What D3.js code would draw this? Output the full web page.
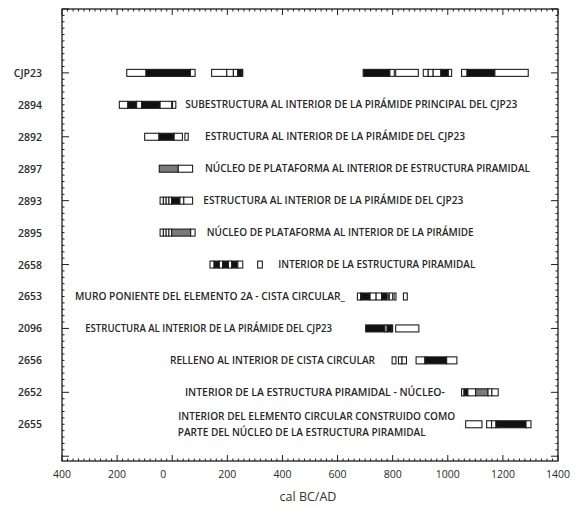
<!DOCTYPE html>
<html><head><meta charset="utf-8">
<script src="https://cdn.jsdelivr.net/npm/d3@7"></script>
<style>body{margin:0;background:#fff}svg{display:block}</style>
</head><body><svg id="c" width="578" height="515"></svg>
<script>
// ---- data ----
const rowLabels = ["CJP23","2894","2892","2897","2893","2895","2658","2653","2096","2656","2652","2655"];
const xTickValues = [-400,-200,0,200,400,600,800,1000,1200,1400];
const xTickLabels = ["400","200","0","200","400","600","800","1000","1200","1400"];
// segments per row: [start, end, fill]  w=white, b=black, g=grey (cal years, BC negative)
const segCJP23 = [[-165,-95,"w"],[-95,66,"b"],[66,83,"w"],[143,198,"w"],[198,222,"w"],[222,238,"w"],[238,253,"b"],[253,256,"w"],[693,790,"b"],[790,806,"w"],[811,893,"w"],[911,929,"w"],[929,947,"w"],[947,975,"w"],[975,1002,"b"],[1002,1014,"w"],[1050,1070,"w"],[1070,1171,"b"],[1171,1292,"w"]];
const seg2894 = [[-192,-161,"w"],[-161,-129,"b"],[-129,-111,"w"],[-111,-44,"b"],[-44,-2,"w"],[1,13,"w"]];
const seg2892 = [[-100,-48,"w"],[-48,7,"b"],[7,37,"w"],[46,58,"w"]];
const seg2897 = [[-47,22,"g"],[22,74,"w"]];
const seg2893 = [[-44,-32,"w"],[-32,-22,"w"],[-22,-12,"w"],[-12,-2,"w"],[-2,28,"b"],[28,42,"w"],[42,74,"w"]];
const seg2895 = [[-44,-32,"w"],[-32,-22,"w"],[-22,-12,"w"],[-12,-2,"w"],[-2,67,"g"],[67,83,"w"]];
const seg2658 = [[137,152,"w"],[152,171,"b"],[171,183,"w"],[183,204,"b"],[204,216,"w"],[216,238,"b"],[238,256,"w"],[310,327,"w"]];
const seg2653 = [[672,684,"w"],[684,718,"b"],[718,740,"w"],[740,760,"w"],[760,780,"b"],[780,784,"w"],[788,800,"w"],[805,812,"w"],[839,853,"w"]];
const seg2096 = [[702,772,"b"],[772,780,"w"],[780,796,"b"],[796,800,"w"],[811,895,"w"]];
const seg2656 = [[798,812,"w"],[821,834,"w"],[834,850,"w"],[885,917,"w"],[917,996,"b"],[996,1033,"w"]];
const seg2652 = [[1050,1059,"w"],[1059,1073,"b"],[1073,1101,"w"],[1101,1146,"g"],[1146,1160,"w"],[1160,1183,"w"]];
const seg2655 = [[1065,1124,"w"],[1141,1159,"w"],[1159,1175,"w"],[1175,1284,"b"],[1284,1302,"w"]];
const rowSegments = [segCJP23,seg2894,seg2892,seg2897,seg2893,seg2895,seg2658,seg2653,seg2096,seg2656,seg2652,seg2655];
// annotation texts: [row index, start year, text line, line offset]
const notes = [
 [1, 47, "SUBESTRUCTURA AL INTERIOR DE LA PIRÁMIDE PRINCIPAL DEL CJP23", 0],
 [2, 119, "ESTRUCTURA AL INTERIOR DE LA PIRÁMIDE DEL CJP23", 0],
 [3, 119, "NÚCLEO DE PLATAFORMA AL INTERIOR DE ESTRUCTURA PIRAMIDAL", 0],
 [4, 113, "ESTRUCTURA AL INTERIOR DE LA PIRÁMIDE DEL CJP23", 0],
 [5, 125, "NÚCLEO DE PLATAFORMA AL INTERIOR DE LA PIRÁMIDE", 0],
 [6, 385, "INTERIOR DE LA ESTRUCTURA PIRAMIDAL", 0],
 [7, -353, "MURO PONIENTE DEL ELEMENTO 2A - CISTA CIRCULAR_", 0],
 [8, -316, "ESTRUCTURA AL INTERIOR DE LA PIRÁMIDE DEL CJP23", 0],
 [9, -8, "RELLENO AL INTERIOR DE CISTA CIRCULAR", 0],
 [10, 46, "INTERIOR DE LA ESTRUCTURA PIRAMIDAL - NÚCLEO-", 0],
 [11, 22, "INTERIOR DEL ELEMENTO CIRCULAR CONSTRUIDO COMO", -1],
 [11, 20, "PARTE DEL NÚCLEO DE LA ESTRUCTURA PIRAMIDAL", 1]
];
// ---- layout ----
const noteWidths = [332,260,325,260,267,197,270,247,205,260,277,248];
const L = 62, R = 558, T = 9, B = 461;
const svg = d3.select("#c");
const x = d3.scaleLinear().domain([-400,1400]).range([L,R]);
const y = d3.scaleLinear().domain([-2,12.15]).range([T,B]);
const fills = {w:"#ffffff", b:"#111111", g:"#7a7a7a"};
const ink = "#1e1e1e";

// minor / major ticks, inward on all four sides
const xMinor = d3.range(-400,1401,20);
const yMinor = d3.range(-2,12.15,0.2);
const yMajor = d3.range(-2,12.1,2);
const tg = svg.append("g").attr("stroke",ink).attr("stroke-width",1);
xMinor.forEach(v=>{
  const major = xTickValues.includes(v);
  const len = major?6:2.5;
  tg.append("line").attr("x1",x(v)).attr("x2",x(v)).attr("y1",B).attr("y2",B-len);
  tg.append("line").attr("x1",x(v)).attr("x2",x(v)).attr("y1",T).attr("y2",T+len);
});
yMinor.forEach(v=>{
  const major = yMajor.some(m=>Math.abs(m-v)<1e-6);
  const len = major?7:2.5;
  tg.append("line").attr("y1",y(v)).attr("y2",y(v)).attr("x1",L).attr("x2",L+len);
  tg.append("line").attr("y1",y(v)).attr("y2",y(v)).attr("x1",R).attr("x2",R-len);
});
svg.append("rect").attr("x",L).attr("y",T).attr("width",R-L).attr("height",B-T)
  .attr("fill","none").attr("stroke",ink).attr("stroke-width",1.3);

// x tick labels (the "0" label sits a little left of its tick, as in the source)
svg.append("g").selectAll("text").data(xTickValues).join("text")
  .attr("x",d=>x(d) - (d===0?9:0)).attr("y",B+17).attr("text-anchor","middle")
  .attr("font-family","Open Sans").attr("font-size",10.5).attr("fill","#2a2a2a")
  .text((d,i)=>xTickLabels[i]);
svg.append("text").attr("x",(L+R)/2 - 2).attr("y",B+40).attr("text-anchor","middle")
  .attr("font-family","Open Sans").attr("font-size",12.5).attr("fill","#333").text("cal BC/AD");

// row labels
svg.append("g").selectAll("text").data(rowLabels).join("text")
  .attr("x",42).attr("y",(d,i)=>y(i)+4).attr("text-anchor","end")
  .attr("font-family","Open Sans").attr("font-weight",600).attr("font-size",10.5).attr("fill","#2a2a2a")
  .text(d=>d);

// bars
const bh = 7;
rowSegments.forEach((segs,i)=>{
  svg.append("g").selectAll("rect").data(segs).join("rect")
    .attr("x",d=>x(d[0])).attr("width",d=>x(d[1])-x(d[0]))
    .attr("y",y(i)-bh/2).attr("height",bh)
    .attr("fill",d=>fills[d[2]]).attr("stroke",ink).attr("stroke-width",1.1);
});

// annotations
svg.append("g").selectAll("text").data(notes).join("text")
  .attr("x",d=>x(d[1])).attr("y",d=>y(d[0])+3.6+d[3]*8)
  .attr("font-family","Open Sans").attr("font-weight",600).attr("font-size",9.8).attr("fill","#262626")
  .attr("textLength",(d,i)=>noteWidths[i]).attr("lengthAdjust","spacingAndGlyphs")
  .text(d=>d[2]);
</script></body></html>
